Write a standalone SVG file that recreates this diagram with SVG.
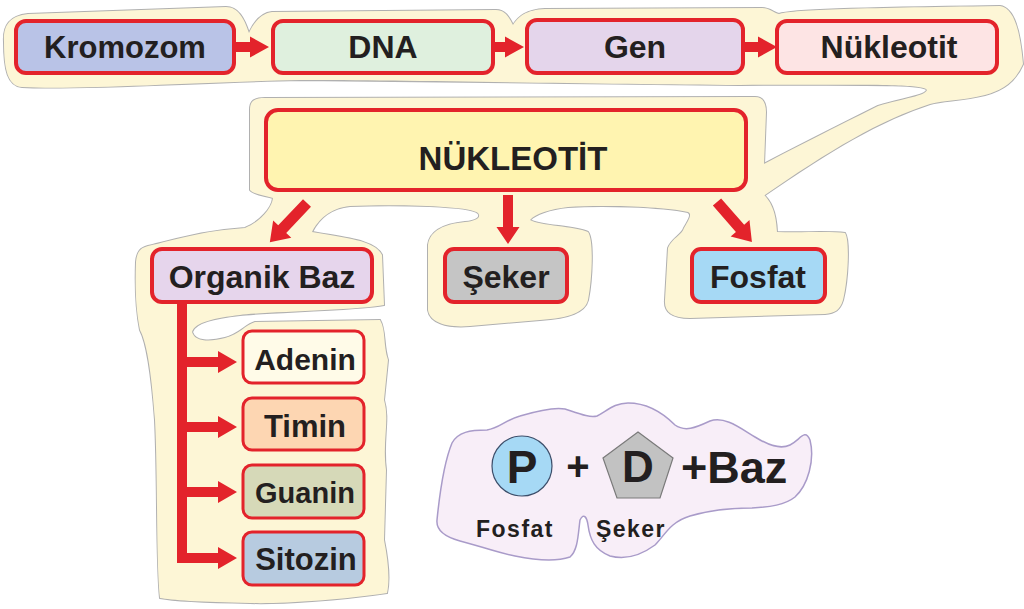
<svg xmlns="http://www.w3.org/2000/svg" xmlns:xlink="http://www.w3.org/1999/xlink" width="1024" height="609" viewBox="0 0 1024 609">
<style>
.blob{fill:#fdf6d6;}
.blobline{fill:none;stroke:#b0b0b0;stroke-width:2;}
.box{stroke:#e3232b;stroke-width:4;}
.sbox{stroke:#e3232b;stroke-width:3;}
.arr{fill:#e3232b;}
.t{font-family:"Liberation Sans",Arial,sans-serif;font-weight:bold;fill:#231f20;text-anchor:middle;}
</style>
<defs>
<path id="blobA" d="M4,42 C3,25 10,16 28,14 L226,7 C238,7 244,18 249,33 C254,22 262,13 272,12 L496,10 C505,10 509,17 513,25 C519,16 526,10 545,9 L762,8 C770,8 774,13 779,14 C790,10 850,8 1000,6 C1014,8 1020,30 1023,64 C1015,82 1003,90 985,95 C960,101 945,100 930,104 C880,120 830,150 762,197 L762,165 C800,145 850,120 878,106 C905,98 925,96 927,90 C925,85 900,84 740,85 C600,84 400,80 300,80 C200,82 80,90 22,87 C8,86 4,70 4,42 Z"/>
<path id="blobB" d="M250,110 C250,101 254,98 265,98 L755,97 C763,97 766,103 766,112 L764,165 L762,193 C770,200 776,210 777,232 C800,233 830,231 845,233 C850,240 848,280 843,300 C840,310 835,313 825,314 L690,318 C672,318 664,312 665,300 L668,248 C672,238 682,235 684,228 C690,218 692,214 688,212 C660,206 600,205 568,207 C550,209 535,214 530,220 C540,226 575,226 588,232 C594,240 592,280 588,300 C585,312 570,318 540,320 L470,326 C445,328 430,322 428,310 L428,245 C430,230 445,224 465,222 C475,221 482,218 478,213 C470,206 400,204 350,206 C330,208 318,220 312,232 C345,238 375,240 382,255 L384,305 C360,310 260,312 240,315 C215,318 195,322 192,332 C195,342 210,342 225,338 C240,334 245,325 255,322 L380,320 C386,330 383,345 388,360 L384,400 C390,420 382,440 386,470 L384,540 C388,560 390,580 387,593 C340,600 280,604 250,603 C200,602 170,600 160,598 C156,560 158,480 155,420 C152,380 148,345 140,330 C136,310 135,290 136,262 C137,252 140,248 148,246 C175,240 200,231 245,228 C260,222 272,208 273,198 C262,195 253,194 250,190 Z"/>
</defs>

<g id="background">
<use xlink:href="#blobA" class="blobline"/>
<use xlink:href="#blobB" class="blobline"/>
<use xlink:href="#blobA" class="blob"/>
<use xlink:href="#blobB" class="blob"/>
<path d="M437,520 C440,490 445,460 452,443 C458,432 470,430 487,430 C500,428 505,420 520,416 C540,410 555,407 565,409 C580,414 590,418 597,416 C608,410 615,403 628,403 C645,403 660,410 675,425 C685,432 695,428 710,421 C725,416 740,428 755,437 C768,445 780,450 790,445 C800,440 805,428 810,440 C815,460 808,485 795,497 C785,505 770,507 752,508 C730,508 710,510 690,516 C670,522 665,535 655,545 C640,556 625,560 610,556 C595,550 590,540 588,525 C587,518 584,512 580,520 C578,535 578,550 570,557 C555,562 535,560 515,556 C495,552 480,546 460,541 C445,537 436,530 437,520 Z" fill="#f8eef8" stroke="#a99bc9" stroke-width="1.5"/>
</g>

<g id="connectors">
<path class="arr" d="M234,42 L250,42 L250,36.5 L269,47 L250,57.5 L250,52 L234,52 Z"/>
<path class="arr" d="M493,42 L505,42 L505,36.5 L524,47 L505,57.5 L505,52 L493,52 Z"/>
<path class="arr" d="M743,42 L758,42 L758,36.5 L777,47 L758,57.5 L758,52 L743,52 Z"/>
<path class="arr" transform="translate(307,203) rotate(133.5)" d="M0,-5.5 L36,-5.5 L36,-12.5 L54,0 L36,12.5 L36,5.5 L0,5.5 Z"/>
<path class="arr" transform="translate(508,195) rotate(90)" d="M0,-5 L32,-5 L32,-11.5 L49,0 L32,11.5 L32,5 L0,5 Z"/>
<path class="arr" transform="translate(717,202) rotate(48.8)" d="M0,-5.5 L35,-5.5 L35,-12.5 L53,0 L35,12.5 L35,5.5 L0,5.5 Z"/>
<rect class="arr" x="177" y="300" width="10" height="263"/>
<path class="arr" d="M182,357 L218,357 L218,351 L237,362 L218,373 L218,367 L182,367 Z"/>
<path class="arr" d="M182,422 L218,422 L218,416 L237,427 L218,438 L218,432 L182,432 Z"/>
<path class="arr" d="M182,487 L218,487 L218,481 L237,492 L218,503 L218,497 L182,497 Z"/>
<path class="arr" d="M182,553 L218,553 L218,547 L237,558 L218,569 L218,563 L182,563 Z"/>
</g>

<g id="kromozom"><rect class="box" x="16" y="21" width="218" height="52" rx="10" fill="#b9c3e7"/><text class="t" x="125" y="58" font-size="31">Kromozom</text></g>
<g id="dna"><rect class="box" x="273" y="21" width="220" height="52" rx="10" fill="#dff0de"/><text class="t" x="383" y="58" font-size="32">DNA</text></g>
<g id="gen"><rect class="box" x="527" y="20" width="216" height="53" rx="10" fill="#e4d5eb"/><text class="t" x="635" y="58" font-size="32">Gen</text></g>
<g id="nukleotit"><rect class="box" x="777" y="21" width="220" height="52" rx="10" fill="#fde4e4"/><text class="t" x="889" y="58" font-size="32">Nükleotit</text></g>

<g id="nukleotit-main"><rect class="box" x="266" y="110" width="480" height="80" rx="12" fill="#fff4b0"/><text class="t" x="513" y="170" font-size="33">NÜKLEOTİT</text></g>

<g id="organik-baz"><rect class="box" x="152" y="249" width="220" height="53" rx="10" fill="#e6d5ec"/><text class="t" x="262" y="288" font-size="32">Organik Baz</text></g>
<g id="seker"><rect class="box" x="445" y="249" width="122" height="53" rx="9" fill="#c5c5c5"/><text class="t" x="506" y="288" font-size="32">Şeker</text></g>
<g id="fosfat"><rect class="box" x="692" y="249" width="133" height="53" rx="9" fill="#a6d9f5"/><text class="t" x="758" y="288" font-size="32">Fosfat</text></g>

<g id="adenin"><rect class="sbox" x="243" y="331" width="121" height="52" rx="9" fill="#fffbe8"/><text class="t" x="305" y="370" font-size="30">Adenin</text></g>
<g id="timin"><rect class="sbox" x="243" y="398" width="121" height="52" rx="9" fill="#fdd6b2"/><text class="t" x="305" y="437" font-size="31">Timin</text></g>
<g id="guanin"><rect class="sbox" x="243" y="465" width="121" height="53" rx="9" fill="#d6d9b8"/><text class="t" x="305" y="503" font-size="29">Guanin</text></g>
<g id="sitozin"><rect class="sbox" x="243" y="532" width="121" height="53" rx="9" fill="#b7cbe0"/><text class="t" x="306" y="570" font-size="31">Sitozin</text></g>

<g id="formula">
<circle cx="522" cy="466" r="30" fill="#a6d9f5" stroke="#3c4e6a" stroke-width="1.2"/>
<text class="t" x="522" y="483" font-size="46">P</text>
<text class="t" x="578" y="480" font-size="40">+</text>
<polygon points="638,432 673,458 660,498 617,498 603,458" fill="#c2c2c2" stroke="#7a7a7a" stroke-width="1.2"/>
<text class="t" x="638" y="482" font-size="44">D</text>
<text class="t" x="681" y="483" font-size="45" style="text-anchor:start">+Baz</text>
<text class="t" x="515" y="537" font-size="23" letter-spacing="1.5">Fosfat</text>
<text class="t" x="631" y="537" font-size="23" letter-spacing="1.5">Şeker</text>
</g>
</svg>
